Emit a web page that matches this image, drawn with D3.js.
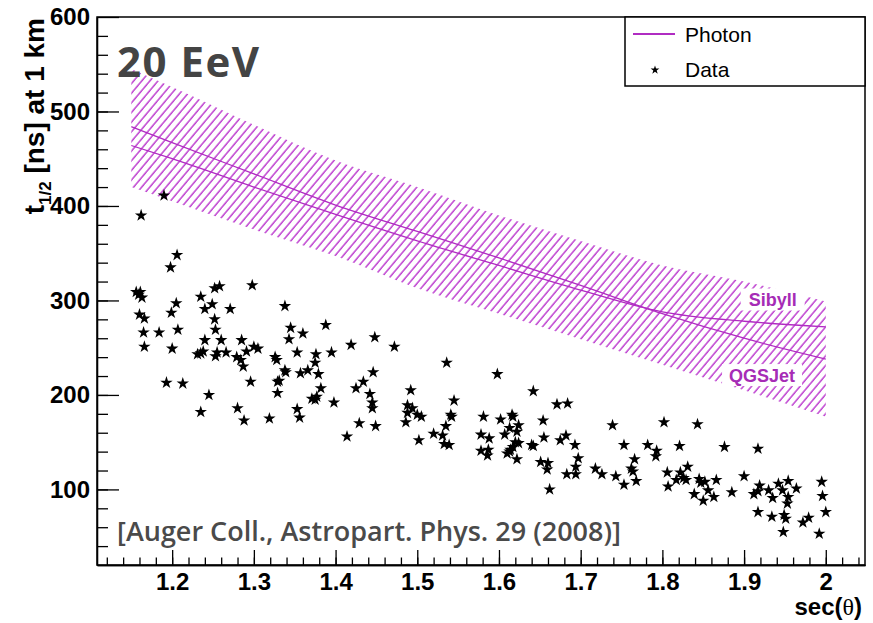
<!DOCTYPE html>
<html>
<head>
<meta charset="utf-8">
<script src="https://cdn.jsdelivr.net/npm/d3@7"></script>
<style>
  body { margin: 0; background: #fff; }
  svg { display: block; font-family: "Liberation Sans", Arial, sans-serif; }
  .axis text { font-size: 24px; font-weight: bold; fill: #000; }
  .axis path, .axis line { stroke: #000; stroke-width: 1.3; }
</style>
</head>
<body>
<svg id="chart" width="873" height="623"></svg>
<script>
// photon prediction band (sec(theta) samples)
var bandSec   = [1.15, 1.2, 1.3, 1.4, 1.5, 1.6, 1.7, 1.8, 1.9, 2.0];
var bandUpper = [545, 526, 486, 448, 420, 390, 363, 337, 320, 299];
var bandLower = [420, 405, 375, 347, 313, 286, 259, 232, 205, 177];
var qgsjet    = [484, 467, 434, 401, 373, 345, 316, 286, 260, 238];
var sibyll    = [464, 450, 420, 391, 363, 337, 311, 288, 278, 272];

// measured events
var secTheta = [
  1.190, 1.162, 1.206, 1.198, 1.156, 1.161, 1.159, 1.163, 1.160, 1.166, 1.165, 1.166, 1.205, 1.199, 1.207,
  1.184, 1.200, 1.193, 1.213, 1.258, 1.252, 1.298, 1.235, 1.249, 1.240, 1.271, 1.252, 1.253, 1.240, 1.260,
  1.231, 1.235, 1.238, 1.253, 1.255, 1.266, 1.285, 1.279, 1.284, 1.287, 1.291, 1.300, 1.305, 1.296, 1.245,
  1.235, 1.280, 1.288, 1.319, 1.338, 1.345, 1.343, 1.360, 1.388, 1.353, 1.326, 1.328, 1.338, 1.339, 1.357,
  1.366, 1.376, 1.375, 1.379, 1.395, 1.329, 1.331, 1.329, 1.382, 1.371, 1.375, 1.377, 1.353, 1.356, 1.398,
  1.419, 1.448, 1.446, 1.434, 1.425, 1.442, 1.445, 1.445, 1.429, 1.449, 1.414,
  1.472, 1.536, 1.598, 1.492, 1.545, 1.642, 1.488, 1.488, 1.494, 1.500, 1.505, 1.486, 1.541, 1.542, 1.535,
  1.520, 1.531, 1.533, 1.539, 1.502, 1.581, 1.578, 1.588, 1.578, 1.587, 1.586, 1.602, 1.616, 1.617, 1.613,
  1.624, 1.622, 1.607, 1.620, 1.624, 1.617, 1.613, 1.610, 1.614, 1.622, 1.640, 1.642, 1.654, 1.655, 1.671,
  1.684, 1.682, 1.675, 1.693, 1.697, 1.694, 1.683, 1.694, 1.651, 1.660, 1.659, 1.662, 1.718, 1.726, 1.743,
  1.739,
  1.802, 1.843, 1.753, 1.782, 1.793, 1.792, 1.821, 1.876, 1.917, 1.766, 1.762, 1.764, 1.768, 1.753, 1.831,
  1.806, 1.822, 1.817, 1.807, 1.826, 1.829, 1.845, 1.847, 1.852, 1.866, 1.856, 1.839, 1.863, 1.850, 1.885,
  1.900, 1.912, 1.919, 1.917, 1.930, 1.935, 1.942, 1.947, 1.954, 1.964, 1.954, 1.953, 1.917, 1.934, 1.949,
  1.951, 1.948, 1.972, 1.979, 1.995, 1.996, 2.000, 1.992
];
var t12 = [
  411, 390, 348, 335, 309, 309, 306, 303, 285, 281, 266, 251, 297, 287, 269,
  266, 249, 213, 212, 315, 313, 316, 304, 296, 291, 291, 280, 269, 258, 258,
  243, 244, 246, 241, 245, 245, 258, 240, 237, 230, 246, 251, 249, 214, 200,
  182, 186, 173, 175, 294, 271, 259, 265, 274, 245, 240, 237, 226, 224, 223,
  226, 243, 234, 222, 245, 214, 215, 202, 207, 196, 195, 198, 185, 176, 192,
  253, 261, 224, 214, 207, 201, 192, 186, 170, 167, 156,
  251, 234, 222, 205, 194, 204, 189, 181, 186, 179, 177, 171, 179, 177, 167,
  159, 157, 148, 147, 152, 177, 158, 154, 141, 142, 136, 174, 179, 177, 165,
  168, 161, 158, 150, 149, 145, 140, 138, 142, 132, 147, 146, 173, 155, 190,
  191, 157, 152, 147, 133, 124, 116, 116, 129, 128, 121, 100, 122, 116, 114,
  168,
  171, 169, 147, 147, 141, 135, 146, 145, 143, 132, 122, 119, 109, 105, 124,
  118, 118, 110, 103, 112, 110, 111, 107, 108, 110, 99, 95, 92, 88, 97,
  114, 95, 104, 98, 99, 91, 106, 99, 109, 101, 92, 85, 76, 71, 73,
  69, 55, 65, 70, 108, 93, 76, 53
];

var xTicks = [1.2, 1.3, 1.4, 1.5, 1.6, 1.7, 1.8, 1.9, 2.0];
var xMinor = d3.range(1.12, 2.045, 0.02);
var yTicks = [100, 200, 300, 400, 500, 600];
var yMinor = d3.range(40, 600, 20);

var magenta = "#b02cc2";

var svg = d3.select("#chart"),
    margin = {top: 17, right: 8, bottom: 58, left: 97},
    width = +svg.attr("width") - margin.left - margin.right,
    height = +svg.attr("height") - margin.top - margin.bottom,
    g = svg.append("g").attr("transform", "translate(" + margin.left + "," + margin.top + ")");

var x = d3.scaleLinear().domain([1.108, 2.048]).range([0, width]);
var y = d3.scaleLinear().domain([20, 600]).range([height, 0]);

var defs = svg.append("defs");
defs.append("clipPath").attr("id", "frame")
  .append("rect").attr("width", width).attr("height", height);

var hatch = defs.append("pattern")
  .attr("id", "hatch")
  .attr("patternUnits", "userSpaceOnUse")
  .attr("width", 6.2).attr("height", 20)
  .attr("patternTransform", "rotate(40)");
hatch.append("line")
  .attr("x1", 1).attr("y1", 0).attr("x2", 1).attr("y2", 20)
  .attr("stroke", "#b424c8").attr("stroke-width", 1.3);

var plot = g.append("g").attr("clip-path", "url(#frame)");

// hatched band
var band = bandSec.map(function(s, i) { return {s: s, lo: bandLower[i], hi: bandUpper[i]}; });
var area = d3.area()
  .x(function(d) { return x(d.s); })
  .y0(function(d) { return y(d.lo); })
  .y1(function(d) { return y(d.hi); })
  .curve(d3.curveMonotoneX);
plot.append("path").datum(band).attr("d", area).attr("fill", "url(#hatch)");

var line = d3.line()
  .x(function(d, i) { return x(bandSec[i]); })
  .y(function(d) { return y(d); })
  .curve(d3.curveMonotoneX);
[qgsjet, sibyll].forEach(function(s) {
  plot.append("path").datum(s).attr("d", line)
    .attr("fill", "none").attr("stroke", magenta).attr("stroke-width", 1.3);
});

// model labels (white boxes mask the hatch)
var labels = [{t: "Sibyll", s: 1.935, v: 301, w: 64}, {t: "QGSJet", s: 1.922, v: 221, w: 80}];
labels.forEach(function(l) {
  var lg = plot.append("g").attr("transform", "translate(" + x(l.s) + "," + y(l.v) + ")");
  lg.append("rect").attr("x", -l.w / 2).attr("y", -11).attr("width", l.w).attr("height", 22).attr("fill", "#fff");
  lg.append("text").attr("text-anchor", "middle").attr("dy", "0.36em")
    .style("font-size", "18px").style("font-weight", "bold").attr("fill", "#a62cb6")
    .text(l.t);
});

// data stars
var star = d3.symbol().type(d3.symbolStar).size(48);
plot.selectAll(".ev")
  .data(secTheta)
  .enter().append("path")
  .attr("class", "ev")
  .attr("d", star)
  .attr("transform", function(d, i) { return "translate(" + x(d) + "," + y(t12[i]) + ")"; })
  .attr("fill", "#000");

// axes, ticks pointing inward
g.append("g").attr("class", "axis")
  .attr("transform", "translate(0," + height + ")")
  .call(d3.axisBottom(x).tickValues(xMinor).tickSizeInner(-7.5).tickSizeOuter(0).tickFormat(""));
g.append("g").attr("class", "axis")
  .attr("transform", "translate(0," + height + ")")
  .call(d3.axisBottom(x).tickValues(xTicks).tickSizeInner(-15).tickSizeOuter(0).tickPadding(8)
    .tickFormat(function(d) { return d === 2 ? "2" : d3.format(".1f")(d); }));

g.append("g").attr("class", "axis")
  .call(d3.axisLeft(y).tickValues(yMinor).tickSizeInner(-11).tickSizeOuter(0).tickFormat(""));
g.append("g").attr("class", "axis")
  .call(d3.axisLeft(y).tickValues(yTicks).tickSizeInner(-22).tickSizeOuter(0).tickPadding(7));

g.append("rect").attr("width", width).attr("height", height)
  .attr("fill", "none").attr("stroke", "#000").attr("stroke-width", 1.5);

// axis titles
var yt = svg.append("text")
  .attr("transform", "translate(44,18) rotate(-90)")
  .attr("text-anchor", "end")
  .style("font-size", "28px").style("font-weight", "bold");
yt.append("tspan").text("t");
yt.append("tspan").attr("dy", 7).style("font-size", "17px").text("1/2");
yt.append("tspan").attr("dy", -7).text(" [ns] at 1 km");

var xt = svg.append("text")
  .attr("x", 862).attr("y", 615)
  .attr("text-anchor", "end")
  .style("font-size", "24px").style("font-weight", "bold");
xt.append("tspan").text("sec(");
xt.append("tspan").style("font-weight", "normal").style("font-family", "'Liberation Serif', serif").text("θ");
xt.append("tspan").text(")");

// legend
var leg = svg.append("g").attr("transform", "translate(625,17)");
leg.append("rect").attr("width", 240).attr("height", 69)
  .attr("fill", "#fff").attr("stroke", "#000").attr("stroke-width", 1.5);
leg.append("line").attr("x1", 8).attr("x2", 50).attr("y1", 17).attr("y2", 17)
  .attr("stroke", magenta).attr("stroke-width", 2);
leg.append("text").attr("x", 60).attr("y", 25).style("font-size", "21px").text("Photon");
leg.append("path").attr("d", d3.symbol().type(d3.symbolStar).size(24))
  .attr("transform", "translate(30,53)");
leg.append("text").attr("x", 60).attr("y", 60).style("font-size", "21px").text("Data");

// annotations
svg.append("text").attr("x", 117).attr("y", 77)
  .style("font-family", "'Open Sans', sans-serif").style("font-size", "42px").style("font-weight", "bold")
  .style("letter-spacing", "1.5px")
  .attr("fill", "#444").text("20 EeV");
svg.append("text").attr("x", 117).attr("y", 541)
  .style("font-family", "'Open Sans', sans-serif").style("font-size", "27px").style("font-weight", "600")
  .attr("fill", "#4a4a4a").text("[Auger Coll., Astropart. Phys. 29 (2008)]");
</script>
</body>
</html>
